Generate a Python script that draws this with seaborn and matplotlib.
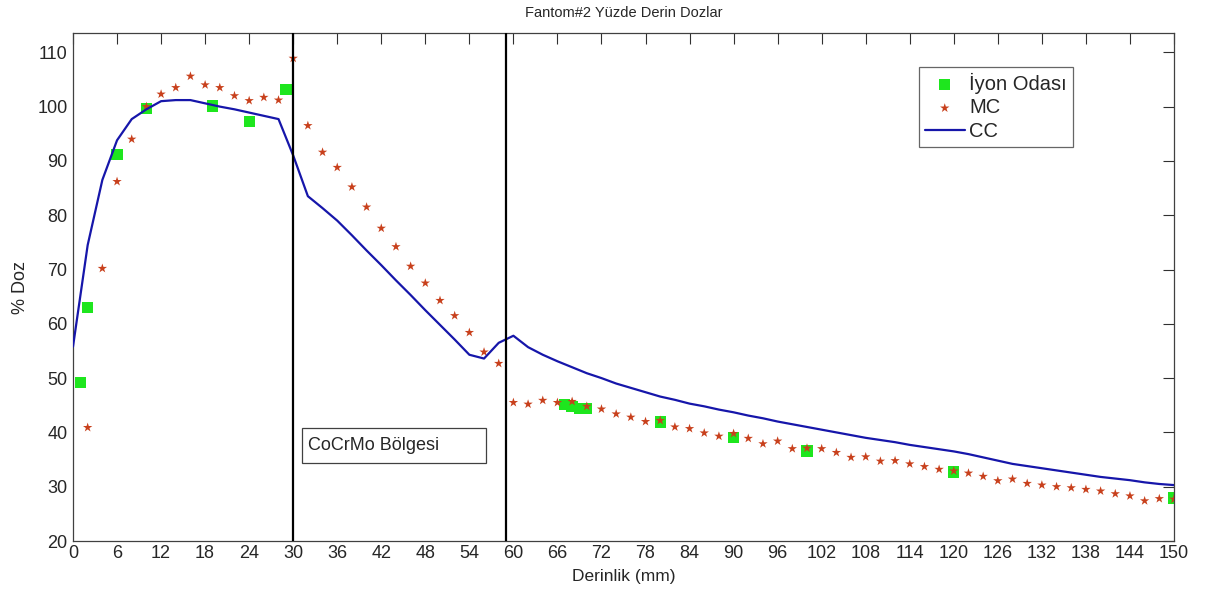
"""Fantom#2 yüzde derin doz eğrileri: iyon odası, MC ve CC karşılaştırması."""
import matplotlib
matplotlib.use("Agg")
import matplotlib.pyplot as plt
import numpy as np
import pandas as pd
import seaborn as sns
from matplotlib.patches import Rectangle

# İyon odası ölçümleri
ion_depth = [1, 2, 6, 10, 19, 24, 29, 67, 68, 69, 70, 80, 90, 100, 120, 150]
ion_dose = [49.2, 63.0, 91.2, 99.7, 100.1, 97.2, 103.2, 45.2, 44.8, 44.4, 44.4,
            41.9, 39.1, 36.6, 32.7, 27.9]

# Monte Carlo (2 mm aralıklarla, 2-150 mm)
mc_depth = list(range(2, 151, 2))
mc_dose = [40.9, 70.2, 86.2, 94.0, 100.0, 102.3, 103.5, 105.6, 104.0, 103.5,
           102.0, 101.1, 101.7, 101.2, 108.9, 96.5, 91.6, 88.8, 85.2, 81.5,
           77.6, 74.2, 70.6, 67.5, 64.3, 61.5, 58.4, 54.8, 52.7, 45.5,
           45.2, 45.9, 45.5, 45.7, 44.8, 44.3, 43.4, 42.8, 42.0, 42.2,
           41.0, 40.7, 39.9, 39.3, 39.8, 38.9, 37.9, 38.4, 37.0, 37.1,
           37.0, 36.3, 35.4, 35.5, 34.7, 34.8, 34.2, 33.7, 33.2, 32.9,
           32.5, 31.9, 31.1, 31.4, 30.6, 30.3, 30.0, 29.8, 29.5, 29.2,
           28.7, 28.3, 27.4, 27.8, 27.7]

# CC (collapsed cone) hesaplaması
cc_depth = list(range(0, 151, 2))
cc_dose = [55.8, 74.5, 86.5, 93.8, 97.7, 99.5, 101.0, 101.2, 101.2, 100.6,
           100.0, 99.5, 98.9, 98.3, 97.7, 91.0, 83.5, 81.3, 79.0, 76.3,
           73.5, 70.8, 68.0, 65.3, 62.5, 59.8, 57.1, 54.3, 53.6, 56.5,
           57.8, 55.7, 54.3, 53.1, 52.0, 50.9, 50.0, 49.0, 48.2, 47.4,
           46.6, 46.0, 45.3, 44.8, 44.2, 43.7, 43.1, 42.6, 42.0, 41.5,
           41.0, 40.5, 40.0, 39.5, 39.0, 38.6, 38.2, 37.7, 37.3, 36.9,
           36.5, 36.0, 35.4, 34.8, 34.2, 33.8, 33.4, 33.0, 32.6, 32.2,
           31.8, 31.5, 31.2, 30.8, 30.5, 30.3]

region_edges = [30, 59]

df_ion = pd.DataFrame({"depth": ion_depth, "dose": ion_dose})
df_mc = pd.DataFrame({"depth": mc_depth, "dose": mc_dose})
df_cc = pd.DataFrame({"depth": cc_depth, "dose": cc_dose})

sns.set_style("white")
plt.rcParams["font.family"] = ["Liberation Sans", "DejaVu Sans"]

fig = plt.figure(figsize=(12.12, 5.94), dpi=100)
ax = fig.add_axes([73 / 1212, 1 - 541 / 594, 1101 / 1212, 507.7 / 594])

sns.scatterplot(data=df_ion, x="depth", y="dose", ax=ax, marker="s", s=66,
                color="#1ee61e", edgecolor="none", label="İyon Odası", zorder=2)
sns.scatterplot(data=df_mc, x="depth", y="dose", ax=ax, marker="*", s=50,
                color="#c8401c", edgecolor="none", label="MC", zorder=3)
sns.lineplot(data=df_cc, x="depth", y="dose", ax=ax, color="#1616aa",
             linewidth=1.6, sort=False, estimator=None, label="CC", zorder=4)

for xv in region_edges:
    ax.axvline(xv, color="black", linewidth=1.6, zorder=5)

ax.add_patch(Rectangle((31.2, 34.3), 25.0, 6.45, facecolor="white",
                       edgecolor="#404040", linewidth=0.9, zorder=6))
ax.text(32.0, 37.6, "CoCrMo Bölgesi", fontsize=13, va="center", ha="left", zorder=7)

ax.set_xlim(0, 150)
ax.set_ylim(20, 113.5)
ax.set_xticks(np.arange(0, 151, 6))
ax.set_yticks(np.arange(20, 111, 10))
ax.tick_params(axis="both", direction="in", length=8, width=0.8, labelsize=13,
               top=True, right=True, color="#303030", pad=3)
ax.tick_params(axis="y", pad=4)
for sp in ax.spines.values():
    sp.set_visible(True)
    sp.set_color("#404040")
    sp.set_linewidth(0.9)

ax.set_xlabel("Derinlik (mm)", fontsize=12.5, labelpad=5)
ax.set_ylabel("% Doz", fontsize=13, labelpad=6)
ax.set_title("Fantom#2 Yüzde Derin Dozlar", fontsize=10.5, pad=12)

leg = ax.legend(loc="upper left", bbox_to_anchor=(0.768, 0.934), borderaxespad=0,
                fontsize=14.5, frameon=True, fancybox=False, handlelength=2.0,
                handletextpad=0.2, labelspacing=0.22, borderpad=0.3)
leg.get_frame().set_edgecolor("#404040")
leg.get_frame().set_linewidth(0.9)

fig.savefig("out.png", dpi=100, facecolor="white")
